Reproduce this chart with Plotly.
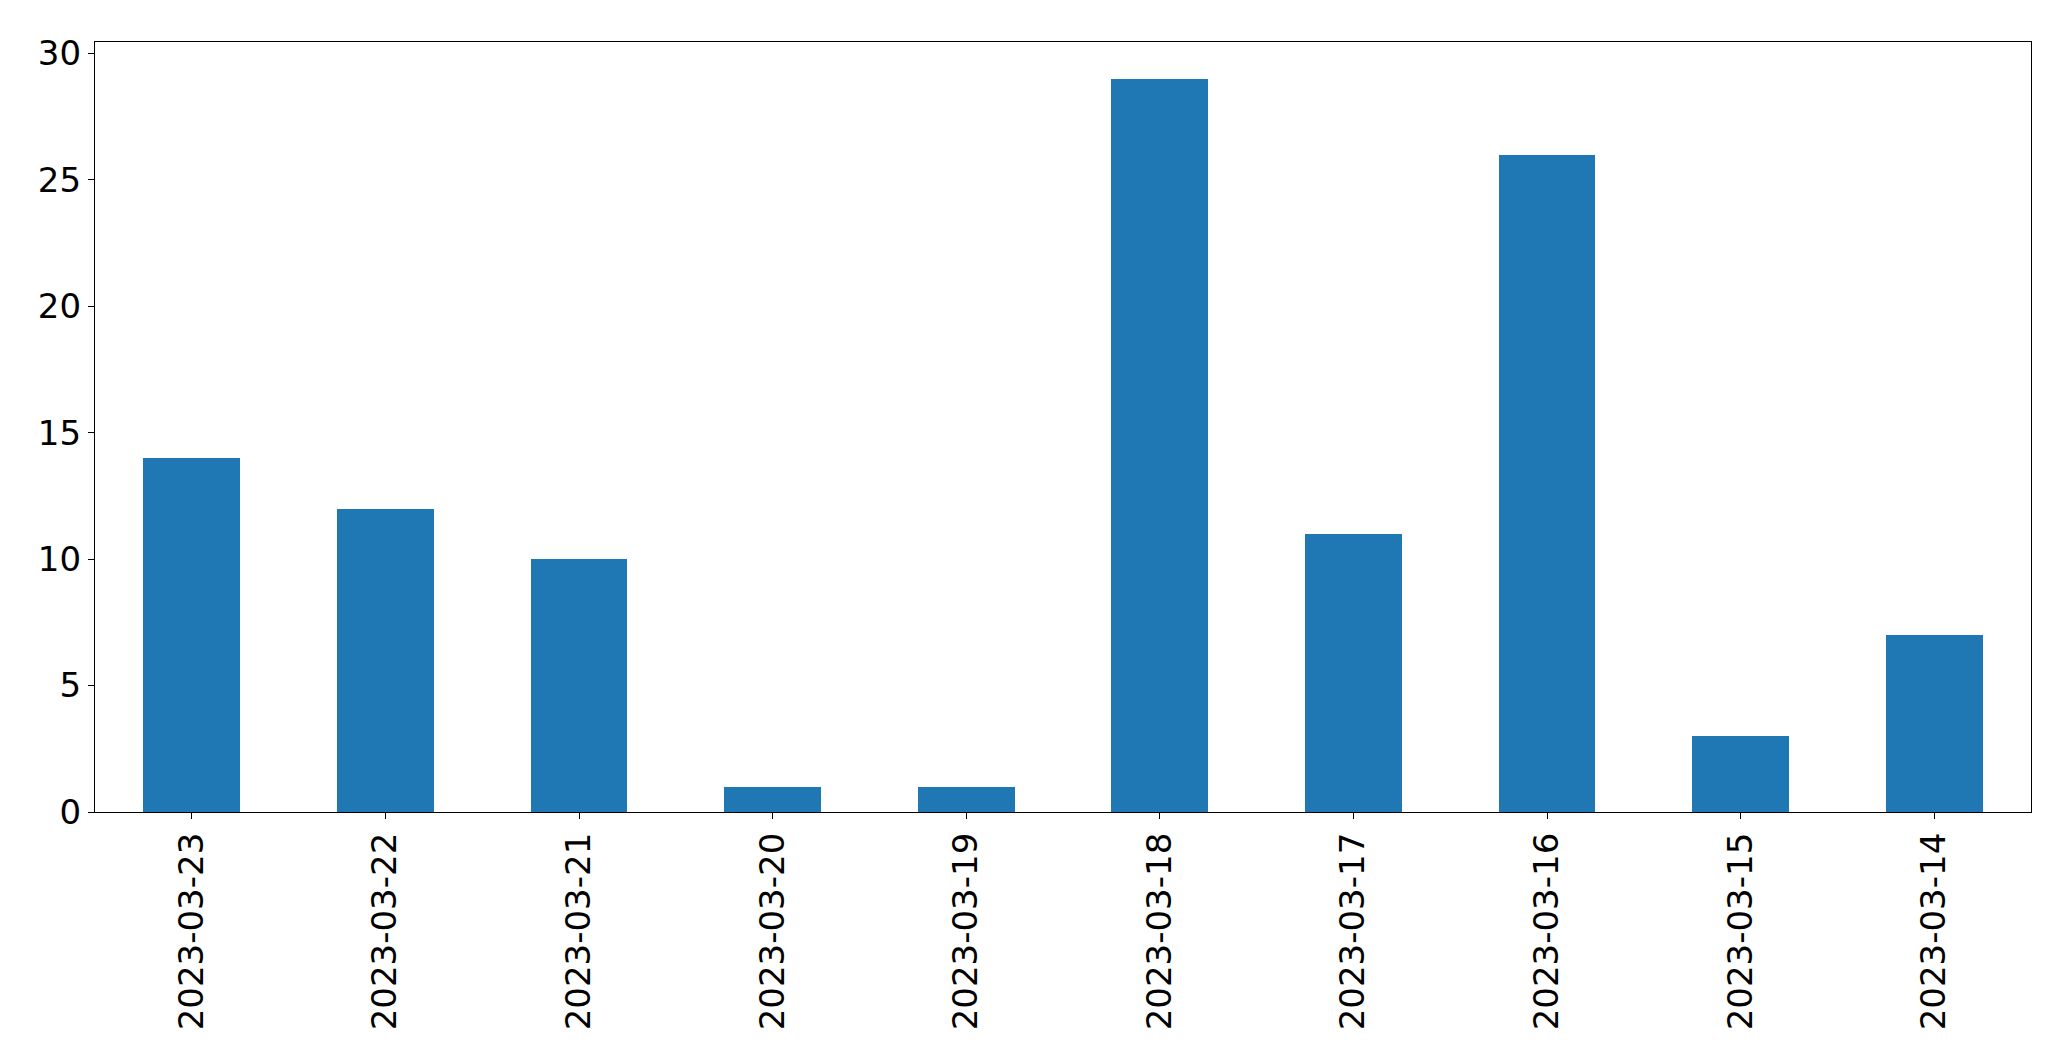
import plotly.graph_objects as go

dates = ["2023-03-23", "2023-03-22", "2023-03-21", "2023-03-20", "2023-03-19",
         "2023-03-18", "2023-03-17", "2023-03-16", "2023-03-15", "2023-03-14"]
counts = [14, 12, 10, 1, 1, 29, 11, 26, 3, 7]

fig = go.Figure(go.Bar(x=dates, y=counts, width=0.5, marker=dict(color="#1f77b4", line=dict(width=0))))

fig.update_layout(
    width=2071, height=1064,
    margin=dict(l=95, r=40, t=42, b=252),
    plot_bgcolor="white", paper_bgcolor="white",
    font=dict(family="DejaVu Sans", size=34, color="black"),
    showlegend=False,
    bargap=0,
)
fig.update_xaxes(
    type="category", range=[-0.5, 9.5], tickangle=-90,
    showline=True, linecolor="black", linewidth=1.3, mirror=True,
    ticks="outside", ticklen=6, tickcolor="black", showgrid=False,
)
fig.update_yaxes(
    range=[0, 30.45], tickvals=[0, 5, 10, 15, 20, 25, 30],
    showline=True, linecolor="black", linewidth=1.3, mirror=True,
    ticks="outside", ticklen=6, tickcolor="black", showgrid=False, zeroline=False,
)

fig.write_html("out.html", config={"displayModeBar": False},
               post_script="document.body.style.margin='0';document.body.style.overflow='hidden';")
